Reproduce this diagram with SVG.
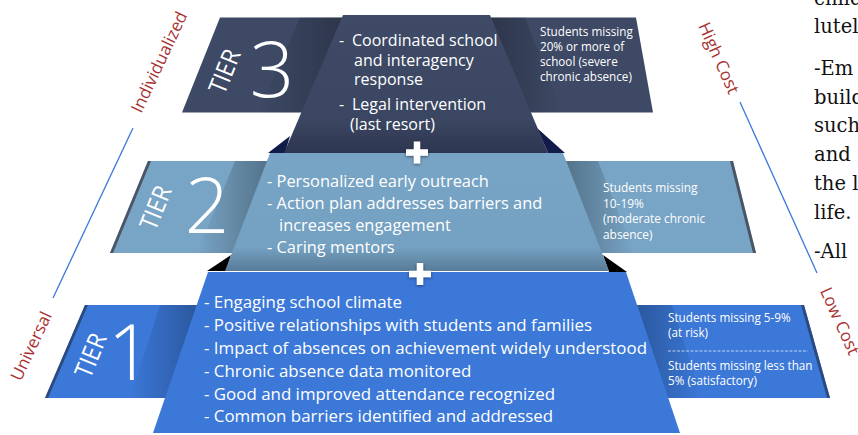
<svg xmlns="http://www.w3.org/2000/svg" width="858" height="435" viewBox="0 0 858 435">
<style>
.t{font-family:"Open Sans","Noto Sans","Liberation Sans",sans-serif;fill:#fff}
.main{font-size:16px}
.small{font-size:11.9px}
.tier{font-size:25px}
.num{font-size:78px;font-weight:300}
.side{font-family:"Open Sans","Noto Sans","Liberation Sans",sans-serif;font-size:17px;fill:#a83232}
.serif{font-family:"DejaVu Serif","Liberation Serif",serif;font-size:19.5px;fill:#111}
.conn{stroke:#3c78d8;stroke-width:1.3;fill:none}
</style>
<defs>
<linearGradient id="g3" x1="0" y1="0" x2="0" y2="1"><stop offset="0" stop-color="#3e4a66"/><stop offset="0.75" stop-color="#3b4662"/><stop offset="1" stop-color="#2d3650"/></linearGradient>
<linearGradient id="g2" x1="0" y1="0" x2="0" y2="1"><stop offset="0" stop-color="#78a4c5"/><stop offset="0.8" stop-color="#74a0c1"/><stop offset="1" stop-color="#587c98"/></linearGradient>
<linearGradient id="shL" x1="0" y1="0" x2="1" y2="0"><stop offset="0" stop-color="#000" stop-opacity="0"/><stop offset="1" stop-color="#000" stop-opacity="0.45"/></linearGradient>
<linearGradient id="shR" x1="0" y1="0" x2="1" y2="0"><stop offset="0" stop-color="#000" stop-opacity="0.45"/><stop offset="1" stop-color="#000" stop-opacity="0"/></linearGradient>
<filter id="ds" x="-50%" y="-50%" width="200%" height="200%"><feDropShadow dx="0" dy="1" stdDeviation="1.5" flood-color="#000" flood-opacity="0.5"/></filter>
<path id="plus" d="M-3.2,-11 h6.4 v7.8 h7.8 v6.4 h-7.8 v7.8 h-6.4 v-7.8 h-7.8 v-6.4 h7.8 z"/>
</defs>
<rect width="858" height="435" fill="#fff"/>

<g id="connectors">
<line class="conn" x1="133" y1="128" x2="53" y2="298"/>
<line class="conn" x1="740" y1="102" x2="817" y2="273"/>
</g>

<g id="labels">
<text class="side" text-anchor="middle" transform="translate(164.5,64.5) rotate(-64.8)">Individualized</text>
<text class="side" text-anchor="middle" transform="translate(36.5,348.5) rotate(-64.8)">Universal</text>
<text class="side" text-anchor="middle" transform="translate(713.5,60.5) rotate(65.8)">High Cost</text>
<text class="side" text-anchor="middle" transform="translate(834.5,323.5) rotate(65.8)">Low Cost</text>
</g>

<g id="page-text">
<text class="serif" x="814" y="5">child</text>
<text class="serif" x="814" y="33">lutely</text>
<text class="serif" x="814" y="75">-Em</text>
<text class="serif" x="814" y="103.5">build</text>
<text class="serif" x="814" y="132">such</text>
<text class="serif" x="814" y="161">and</text>
<text class="serif" x="814" y="190">the l</text>
<text class="serif" x="814" y="218.5">life.</text>
<text class="serif" x="814" y="258">-All</text>
</g>

<g id="tier1">
<polygon points="85,305 804,305 830,398 45,398" fill="#3b78d8"/>
<polygon points="85,305 88,305 48,398 45,398" fill="#2c4a80"/>
<polygon points="801,305 804,305 830,398 827,398" fill="#2c4a80"/>
<polygon points="160,305 197,305 166,398 130,398" fill="url(#shL)" opacity="0.6"/>
<polygon points="637,305 672,305 702,398 668,398" fill="url(#shR)" opacity="0.6"/>
<polygon points="208,272 626,272 680,433 153,433" fill="#3b78d8"/>
<text class="t tier" text-anchor="middle" textLength="45" lengthAdjust="spacingAndGlyphs" transform="translate(98.8,358.6) rotate(-68)">TIER</text>
<text class="t num" x="130" y="380" text-anchor="middle">1</text>
<g class="t main" style="font-size:16.9px">
<text x="204" y="308">- Engaging school climate</text>
<text x="204" y="331">- Positive relationships with students and families</text>
<text x="204" y="354">- Impact of absences on achievement widely understood</text>
<text x="204" y="377">- Chronic absence data monitored</text>
<text x="204" y="400">- Good and improved attendance recognized</text>
<text x="204" y="422">- Common barriers identified and addressed</text>
</g>
<g class="t small" style="font-size:11.7px">
<text x="668" y="322">Students missing 5-9%</text>
<text x="668" y="337">(at risk)</text>
<line x1="668" y1="351" x2="808" y2="351" stroke="#fff" stroke-width="0.8" stroke-dasharray="3,1.5" opacity="0.85"/>
<text x="668" y="370">Students missing less than</text>
<text x="668" y="385">5% (satisfactory)</text>
</g>
</g>

<g id="tier2">
<polygon points="148,161 733,161 756,253 110,253" fill="#78a4c5"/>
<polygon points="148,161 151,161 113,253 110,253" fill="#4a5566"/>
<polygon points="730,161 733,161 756,253 753,253" fill="#4a5566"/>
<polygon points="235,161 270,161 232,253 197,253" fill="url(#shL)" opacity="0.7"/>
<polygon points="563,161 598,161 634,253 599,253" fill="url(#shR)" opacity="0.7"/>
<polygon points="207,271 231,255 226,271" fill="#000"/>
<polygon points="603,255 627,272 609,272" fill="#000"/>
<polygon points="270,153 563,153 609,271 225,271" fill="url(#g2)"/>
<text class="t tier" text-anchor="middle" textLength="45" lengthAdjust="spacingAndGlyphs" transform="translate(163.8,211) rotate(-68)">TIER</text>
<text class="t num" x="207" y="233" text-anchor="middle">2</text>
<g class="t main" style="font-size:16.4px">
<text x="267" y="187">- Personalized early outreach</text>
<text x="267" y="209">- Action plan addresses barriers and</text>
<text x="279" y="231">increases engagement</text>
<text x="267" y="253">- Caring mentors</text>
</g>
<g class="t small">
<text x="603" y="192">Students missing</text>
<text x="603" y="207.5">10-19%</text>
<text x="603" y="223">(moderate chronic</text>
<text x="603" y="238.5">absence)</text>
</g>
</g>

<g id="tier3">
<polygon points="220,17.5 636,17.5 653,112.5 182,112.5" fill="#3d4965"/>
<polygon points="300,17.5 343,17.5 302,112.5 258,112.5" fill="url(#shL)" opacity="0.6"/>
<polygon points="490,17.5 525,17.5 563,112.5 530,112.5" fill="url(#shR)" opacity="0.6"/>
<polygon points="268,153 290,136 285,153" fill="#121c4a"/>
<polygon points="537,128 565,153 548,153" fill="#121c4a"/>
<polygon points="343,15 490,15 548,153 284,153" fill="url(#g3)"/>
<text class="t tier" text-anchor="middle" textLength="45" lengthAdjust="spacingAndGlyphs" transform="translate(232.8,74.6) rotate(-68)">TIER</text>
<text class="t num" x="272" y="97" text-anchor="middle">3</text>
<g class="t main">
<text x="339" y="46">-</text><text x="352" y="46">Coordinated school</text>
<text x="354" y="65.5">and interagency</text>
<text x="354" y="85">response</text>
<text x="339" y="110">-</text><text x="352" y="110">Legal intervention</text>
<text x="350" y="129.5">(last resort)</text>
</g>
<g class="t small" style="font-size:11.7px">
<text x="540" y="36">Students missing</text>
<text x="540" y="51">20% or more of</text>
<text x="540" y="66">school (severe</text>
<text x="540" y="81">chronic absence)</text>
</g>
</g>

<g id="plus-signs" fill="#fff" filter="url(#ds)">
<use href="#plus" x="417" y="152.5"/>
<use href="#plus" x="420" y="274"/>
</g>
</svg>
